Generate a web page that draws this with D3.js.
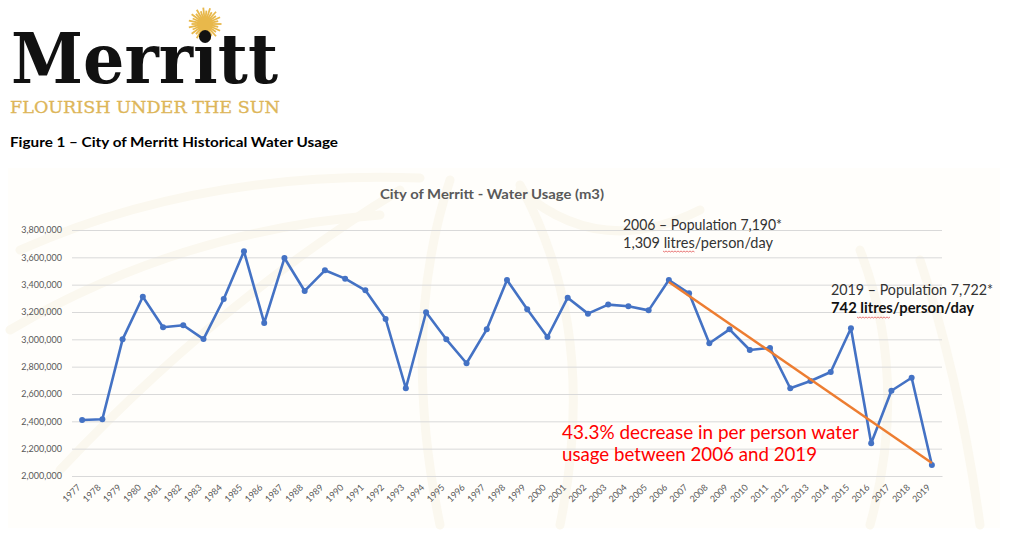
<!DOCTYPE html>
<html>
<head>
<meta charset="utf-8">
<script src="https://cdn.jsdelivr.net/npm/d3@7"></script>
<style>
  html, body { margin: 0; padding: 0; background: #fff; }
  svg { display: block; }
</style>
</head>
<body>
<svg id="chart" width="1024" height="558"></svg>
<script>
// ---- Data ----
const years = ["1977","1978","1979","1980","1981","1982","1983","1984","1985","1986","1987","1988","1989","1990","1991","1992","1993","1994","1995","1996","1997","1998","1999","2000","2001","2002","2003","2004","2005","2006","2007","2008","2009","2010","2011","2012","2013","2014","2015","2016","2017","2018","2019"];
const usage = [2410000, 2415000, 3000000, 3312000, 3088000, 3103000, 3002000, 3295000, 3644000, 3120000, 3595000, 3354000, 3505000, 3444000, 3359000, 3149000, 2642000, 3198000, 3000000, 2825000, 3073000, 3434000, 3220000, 3017000, 3305000, 3188000, 3254000, 3242000, 3212000, 3434000, 3337000, 2971000, 3073000, 2922000, 2937000, 2642000, 2695000, 2761000, 3081000, 2239000, 2624000, 2719000, 2080000];
const trendYears = ["2006", "2019"];
const trendValues = [3420000, 2095000];
const yTicks = [2000000, 2200000, 2400000, 2600000, 2800000, 3000000, 3200000, 3400000, 3600000, 3800000];

const svg = d3.select("#chart");
const font = "Lato, 'Open Sans', sans-serif";

// ---- very faint watermark background ----
svg.append("rect").attr("x", 8).attr("y", 168).attr("width", 992).attr("height", 360).attr("fill", "#FFFEFB");
const wm = svg.append("g").attr("fill", "none").attr("stroke", "#FBF8EF").attr("stroke-linecap", "round");
[
  "M 20 250 Q 200 170 420 178",
  "M 10 330 Q 180 230 380 215",
  "M 60 470 Q 220 300 400 190",
  "M 440 525 Q 400 330 450 180",
  "M 560 525 Q 600 330 520 185",
  "M 520 190 Q 600 260 700 210",
  "M 870 525 Q 910 380 860 250",
  "M 980 525 Q 960 380 920 260"
].forEach(d => wm.append("path").attr("d", d).attr("stroke-width", 9));

// ---- Logo ----
const sun = svg.append("g").attr("transform", "translate(205,24)");
d3.range(0, 360, 12).forEach((a, i) => {
  const r = i % 2 ? 13.5 : 16.5;
  const rad = a * Math.PI / 180;
  sun.append("line")
    .attr("x1", 0).attr("y1", 0)
    .attr("x2", r * Math.cos(rad)).attr("y2", r * Math.sin(rad))
    .attr("stroke", "#E8B84B").attr("stroke-width", 1.8);
});
sun.append("circle").attr("r", 8).attr("fill", "#E8B84B");

svg.append("text")
  .attr("x", 11).attr("y", 83)
  .attr("font-family", "'DejaVu Serif', serif")
  .attr("font-weight", "bold")
  .attr("font-size", 70)
  .attr("textLength", 267).attr("lengthAdjust", "spacingAndGlyphs")
  .attr("fill", "#111")
  .text("Merritt");

svg.append("text")
  .attr("x", 10).attr("y", 113)
  .attr("font-family", "'DejaVu Serif', serif")
  .attr("font-size", 16)
  .attr("stroke", "#DDB65A").attr("stroke-width", 0.3)
  .attr("textLength", 270).attr("lengthAdjust", "spacingAndGlyphs")
  .attr("fill", "#DDB65A")
  .text("FLOURISH UNDER THE SUN");

svg.append("text")
  .attr("x", 10).attr("y", 147)
  .attr("font-family", font)
  .attr("font-weight", "bold")
  .attr("font-size", 13)
  .attr("textLength", 328).attr("lengthAdjust", "spacingAndGlyphs")
  .attr("fill", "#000")
  .text("Figure 1 – City of Merritt Historical Water Usage");

// ---- Chart ----
const plot = { left: 72, right: 942, top: 230, bottom: 476 };

const x = d3.scaleBand().domain(years).range([plot.left, plot.right]);
const y = d3.scaleLinear().domain([2000000, 3800000]).range([plot.bottom, plot.top]);
const cx = d => x(d) + x.bandwidth() / 2;

// chart title
svg.append("text")
  .attr("x", 380).attr("y", 199)
  .attr("font-family", font)
  .attr("font-weight", "bold")
  .attr("font-size", 13.5)
  .attr("textLength", 224).attr("lengthAdjust", "spacingAndGlyphs")
  .attr("fill", "#595959")
  .text("City of Merritt - Water Usage (m3)");

// gridlines + y labels via axis
const yAxis = d3.axisLeft(y)
  .tickValues(yTicks)
  .tickSize(-(plot.right - plot.left))
  .tickPadding(10)
  .tickFormat(d3.format(","));
const gy = svg.append("g")
  .attr("transform", `translate(${plot.left},0)`)
  .call(yAxis);
gy.select(".domain").remove();
gy.selectAll(".tick line").attr("stroke", "#D9D9D9").attr("stroke-width", 1);
gy.selectAll(".tick text")
  .attr("font-family", font)
  .attr("font-size", 9)
  .attr("fill", "#595959");

// x axis
const xAxis = d3.axisBottom(x).tickSize(0).tickPadding(0);
const gx = svg.append("g")
  .attr("transform", `translate(0,${plot.bottom})`)
  .call(xAxis);
gx.select(".domain").attr("stroke", "#D9D9D9");
gx.selectAll(".tick text")
  .attr("font-family", font)
  .attr("font-size", 9)
  .attr("fill", "#595959")
  .attr("text-anchor", "end")
  .attr("x", 0).attr("y", 0).attr("dx", 0).attr("dy", 0)
  .attr("transform", "translate(-1,12) rotate(-45)");

// data line
const line = d3.line().x((d, i) => cx(years[i])).y(d => y(d));
svg.append("path")
  .datum(usage)
  .attr("fill", "none")
  .attr("stroke", "#4472C4")
  .attr("stroke-width", 2.6)
  .attr("stroke-linejoin", "round")
  .attr("d", line);

svg.append("g").selectAll("circle")
  .data(usage)
  .join("circle")
  .attr("cx", (d, i) => cx(years[i]))
  .attr("cy", d => y(d))
  .attr("r", 3)
  .attr("fill", "#4472C4");

// trend line
const tline = d3.line().x((d, i) => cx(trendYears[i])).y(d => y(d));
svg.append("path")
  .datum(trendValues)
  .attr("fill", "none")
  .attr("stroke", "#ED7D31")
  .attr("stroke-width", 2.5)
  .attr("d", tline);

// ---- Annotations ----
function annot(txt, xPos, yPos, len, opts = {}) {
  return svg.append("text")
    .attr("x", xPos).attr("y", yPos)
    .attr("font-family", font)
    .attr("font-size", opts.size || 15)
    .attr("font-weight", opts.bold ? "bold" : "normal")
    .attr("fill", opts.color || "#333")
    .attr("textLength", len).attr("lengthAdjust", "spacingAndGlyphs")
    .text(txt);
}
function squiggle(x0, x1, yy) {
  const pts = [];
  for (let xx = x0, k = 0; xx <= x1; xx += 1.5, k++) pts.push([xx, yy + (k % 2 ? 1 : 0)]);
  svg.append("path").attr("d", d3.line()(pts)).attr("fill", "none").attr("stroke", "#E04040").attr("stroke-width", 0.7);
}

annot("2006 – Population 7,190*", 623, 230, 159);
annot("1,309 litres/person/day", 623, 248, 150);
squiggle(663, 695, 251);

annot("2019 – Population 7,722*", 831, 295, 162);
annot("742 litres/person/day", 831, 313, 143, { bold: true, color: "#111" });
squiggle(857, 890, 317);

annot("43.3% decrease in per person water", 562, 439, 297, { size: 19, color: "#FF0000" });
annot("usage between 2006 and 2019", 562, 461, 255, { size: 19, color: "#FF0000" });
</script>
</body>
</html>
